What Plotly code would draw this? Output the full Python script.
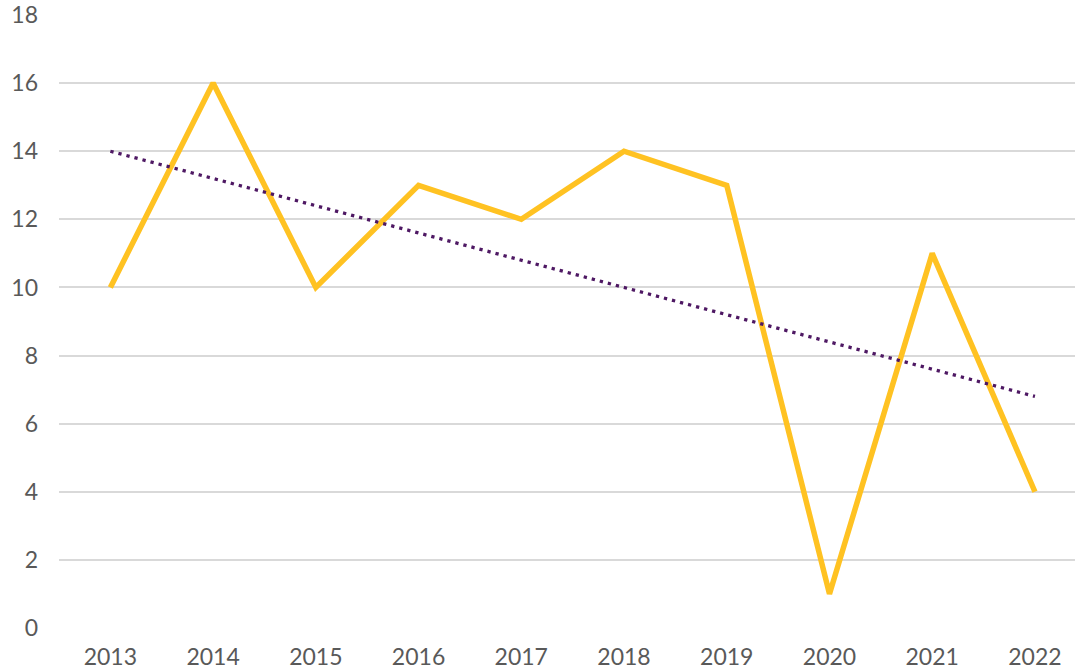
import plotly.graph_objects as go

years = ["2013", "2014", "2015", "2016", "2017", "2018", "2019", "2020", "2021", "2022"]
values = [10, 16, 10, 13, 12, 14, 13, 1, 11, 4]
trend_years = ["2013", "2022"]
trend_values = [14.0, 6.8]
y_ticks = [0, 2, 4, 6, 8, 10, 12, 14, 16, 18]

fig = go.Figure()
fig.add_trace(go.Scatter(
    x=years, y=values, mode="lines",
    line=dict(color="#FFC222", width=5.5),
    hoverinfo="x+y", showlegend=False,
))
fig.add_trace(go.Scatter(
    x=trend_years, y=trend_values, mode="lines",
    line=dict(color="#4E1863", width=3.3, dash="3.3px,5px"),
    showlegend=False,
))

fig.update_layout(
    width=1075, height=671,
    margin=dict(l=59, r=0, t=15, b=43),
    paper_bgcolor="white", plot_bgcolor="white",
    font=dict(family="Lato, Open Sans, sans-serif", size=23, color="#595959"),
    showlegend=False,
)
fig.update_xaxes(
    type="category", range=[-0.5, 9.39],
    showgrid=False, showline=False, zeroline=False,
    ticks="", ticklabelstandoff=13, ticklabeloverflow="allow",
)
fig.update_yaxes(
    range=[0, 18], tickvals=y_ticks,
    showgrid=True, gridcolor="#D9D9D9", gridwidth=1.5,
    zeroline=False, showline=False, ticks="", ticklabelstandoff=20,
    ticklabeloverflow="allow",
)

fig.write_html(
    "out.html",
    config={"displayModeBar": False},
    post_script="document.body.style.margin='0';",
)
